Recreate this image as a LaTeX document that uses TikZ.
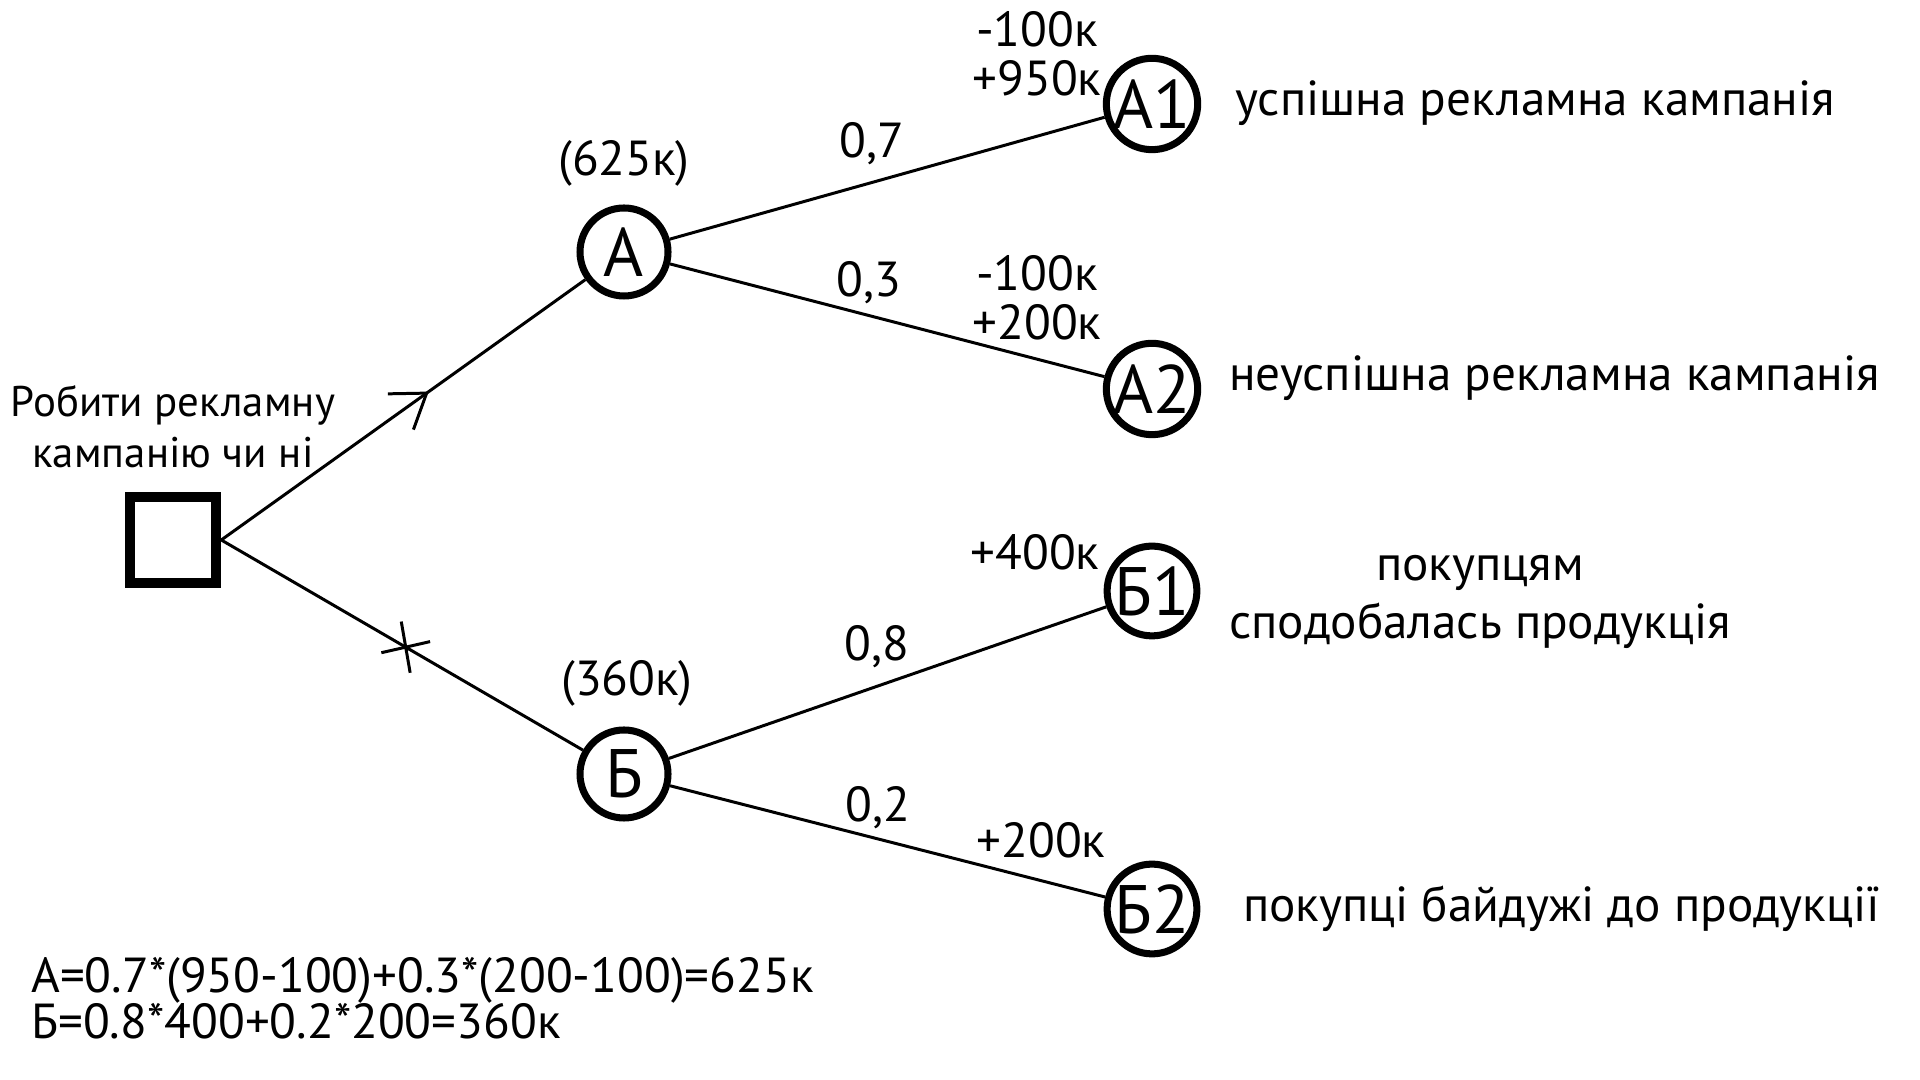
\documentclass[tikz,border=0pt]{standalone}
\usepackage{fontspec}
\setmainfont{PT Sans}
\usetikzlibrary{arrows.meta,decorations.markings}

\begin{document}
\begin{tikzpicture}[
    chance/.style={circle, draw, line width=2pt, minimum size=0.88cm, inner sep=0pt, font=\fontsize{19.5}{19.5}\selectfont},
    decision/.style={rectangle, draw, line width=3pt, minimum size=0.86cm, inner sep=0pt},
    txt/.style={font=\fontsize{14}{14}\selectfont, inner sep=1pt},
    branch/.style={line width=0.85pt},
    arrowmark/.style={postaction={decorate}, decoration={markings,
        mark=at position #1 with {\arrow{Straight Barb[length=3.2mm, width=4.4mm, line width=0.85pt]}}}},
    crossmark/.style={postaction={decorate}, decoration={markings,
        mark=at position #1 with {\draw[line width=0.85pt] (-50:0.26) -- (130:0.26) (43:0.25) -- (223:0.25);}}}
]
            \useasboundingbox (0,0) rectangle (19.2,10.8);

                    % Nodes of the tree
                    \node[decision] (start) at (1.73, 5.40) {};
                    \node[chance] (A) at (6.24, 8.28) {А};
                    \node[chance] (B) at (6.24, 3.06) {Б};
                    \node[chance] (A1) at (11.52, 9.76) {А1};
                    \node[chance] (A2) at (11.52, 6.91) {А2};
                    \node[chance] (B1) at (11.52, 4.89) {Б1};
                    \node[chance] (B2) at (11.52, 1.71) {Б2};

                    % Question and expected values
                    \node[txt, align=center, font=\fontsize{12.2}{14.6}\selectfont] (q) at (1.73, 6.53) {Робити рекламну\\кампанію чи ні};
                    \node[txt] (vA) at (6.24, 9.17) {(625к)};
                    \node[txt] (vB) at (6.27, 3.97) {(360к)};

                    % Probabilities
                    \node[txt] (p1) at (8.72, 9.36) {0,7};
                    \node[txt] (p2) at (8.69, 7.97) {0,3};
                    \node[txt] (p3) at (8.77, 4.33) {0,8};
                    \node[txt] (p4) at (8.78, 2.72) {0,2};

                    % Payoffs
                    \node[txt, align=center] (c1) at (10.37, 10.26) {-100к\\+950к};
                    \node[txt, align=center] (c2) at (10.37, 7.82) {-100к\\+200к};
                    \node[txt] (c3) at (10.35, 5.28) {+400к};
                    \node[txt] (c4) at (10.41, 2.40) {+200к};

                    % Outcomes
                    \node[txt, anchor=west] (o1) at (12.31, 9.77) {успішна рекламна кампанія};
                    \node[txt, anchor=west] (o2) at (12.25, 7.02) {неуспішна рекламна кампанія};
                    \node[txt, align=center, font=\fontsize{14}{16.7}\selectfont] (o3) at (14.80, 4.78) {покупцям\\сподобалась продукція};
                    \node[txt, anchor=west] (o4) at (12.39, 1.71) {покупці байдужі до продукції};

                    % Calculation
                    \node[txt, anchor=west, align=left, font=\fontsize{14}{13.2}\selectfont] (calc) at (0.27, 0.82) {А=0.7*(950-100)+0.3*(200-100)=625к\\Б=0.8*400+0.2*200=360к};

                    % Edges
                    \draw[branch, arrowmark=0.57] (start.east) -- (A);
                    \draw[branch, crossmark=0.51] (start.east) -- (B);
                    \draw[branch] (A) -- (A1);
                    \draw[branch] (A) -- (A2);
                    \draw[branch] (B) -- (B1);
                    \draw[branch] (B) -- (B2);

                \end{tikzpicture}
\end{document}
